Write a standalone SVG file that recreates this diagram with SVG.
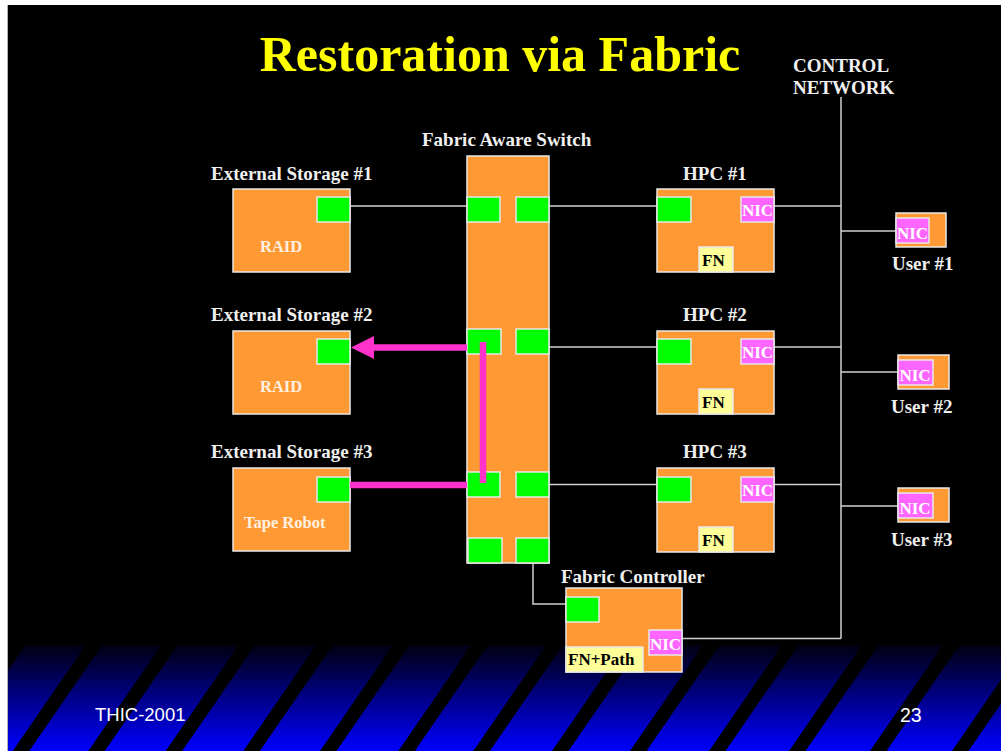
<svg xmlns="http://www.w3.org/2000/svg" width="1001" height="751" viewBox="0 0 1001 751">
<defs>
<linearGradient id="bg" x1="0" y1="645" x2="0" y2="751" gradientUnits="userSpaceOnUse">
<stop offset="0" stop-color="#000010"/>
<stop offset="1" stop-color="#0000ff"/>
</linearGradient>
<clipPath id="slide"><rect x="8" y="5" width="993" height="746"/></clipPath>
<style>
.box{fill:#ff9933;stroke:#e8e8e8;stroke-width:1.5}
.port{fill:#00ff00;stroke:#e8e8e8;stroke-width:1.5}
.nic{fill:#ff66ff;stroke:#e8e8e8;stroke-width:1.5}
.fn{fill:#ffff99;stroke:#e8e8e8;stroke-width:1.5}
.lbl{font-family:"Liberation Serif","Times New Roman",serif;font-weight:bold;font-size:19px;fill:#f0f0f0}
.inner{font-family:"Liberation Serif","Times New Roman",serif;font-weight:bold;font-size:16.5px;fill:#fff0e0}
.nict{font-family:"Liberation Serif","Times New Roman",serif;font-weight:bold;font-size:17px;fill:#ffffff;text-anchor:middle}
.fnt{font-family:"Liberation Serif","Times New Roman",serif;font-weight:bold;font-size:17px;fill:#000000}
.wire{stroke:#d0d0d0;stroke-width:1.5;fill:none}
.pink{stroke:#ff33cc;stroke-width:6.5;fill:none}
.stripe{fill:#000000}
.foot{font-family:"Liberation Sans",Arial,sans-serif;fill:#ffffff}
</style>
</defs>
<rect x="0" y="0" width="1001" height="751" fill="#ffffff"/>
<rect x="7" y="5" width="994" height="746" fill="#000000"/>
<g id="footer-band" clip-path="url(#slide)">
<rect x="8" y="645" width="993" height="106" fill="url(#bg)"/>
<polygon class="stripe" points="-64,751 -47.5,751 25.5,645 9,645"/>
<polygon class="stripe" points="12.7,751 29.2,751 102.2,645 85.7,645"/>
<polygon class="stripe" points="88.3,751 104.8,751 177.8,645 161.3,645"/>
<polygon class="stripe" points="165.7,751 182.2,751 255.2,645 238.7,645"/>
<polygon class="stripe" points="243.3,751 259.8,751 332.8,645 316.3,645"/>
<polygon class="stripe" points="320,751 336.5,751 409.5,645 393,645"/>
<polygon class="stripe" points="398.3,751 414.8,751 487.8,645 471.3,645"/>
<polygon class="stripe" points="473.3,751 489.8,751 562.8,645 546.3,645"/>
<polygon class="stripe" points="552,751 568.5,751 641.5,645 625,645"/>
<polygon class="stripe" points="630,751 646.5,751 719.5,645 703,645"/>
<polygon class="stripe" points="709,751 725.5,751 798.5,645 782,645"/>
<polygon class="stripe" points="789,751 805.5,751 878.5,645 862,645"/>
<polygon class="stripe" points="870,751 886.5,751 959.5,645 943,645"/>
<polygon class="stripe" points="952,751 968.5,751 1041.5,645 1025,645"/>
</g>
<line x1="7.5" y1="5" x2="7.5" y2="751" stroke="#b0b0b0" stroke-width="1"/>
<text x="500" y="71" text-anchor="middle" style="font-family:'Liberation Serif','Times New Roman',serif;font-weight:bold;font-size:50px;fill:#ffff00">Restoration via Fabric</text>
<text class="foot" x="95" y="721" font-size="18.5">THIC-2001</text>
<text class="foot" x="900" y="722" font-size="19.5">23</text>
<g id="connectors">
<line class="wire" x1="350" y1="206" x2="467" y2="206"/>
<line class="wire" x1="549" y1="206" x2="657" y2="206"/>
<line class="wire" x1="549" y1="347" x2="657" y2="347"/>
<line class="wire" x1="549" y1="484.5" x2="657" y2="484.5"/>
<line class="wire" x1="774" y1="206" x2="841" y2="206"/>
<line class="wire" x1="774" y1="347" x2="841" y2="347"/>
<line class="wire" x1="774" y1="484.5" x2="841" y2="484.5"/>
<line class="wire" x1="841" y1="97" x2="841" y2="638.5"/>
<line class="wire" x1="841" y1="231" x2="896" y2="231"/>
<line class="wire" x1="841" y1="372" x2="898" y2="372"/>
<line class="wire" x1="841" y1="506" x2="898" y2="506"/>
<line class="wire" x1="682" y1="638.5" x2="841" y2="638.5"/>
<path class="wire" d="M533,563 V604 H566"/>
</g>
<g id="es1">
<text class="lbl" x="211" y="180">External Storage #1</text>
<rect class="box" x="233" y="189" width="117" height="83"/>
<rect class="port" x="317" y="197" width="33" height="25"/>
<text class="inner" x="260" y="252">RAID</text>
</g>
<g id="es2">
<text class="lbl" x="211" y="321">External Storage #2</text>
<rect class="box" x="233" y="331" width="117" height="83"/>
<rect class="port" x="317" y="339" width="33" height="25"/>
<text class="inner" x="260" y="392">RAID</text>
</g>
<g id="es3">
<text class="lbl" x="211" y="458">External Storage #3</text>
<rect class="box" x="233" y="468" width="117" height="83"/>
<rect class="port" x="317" y="477" width="33" height="25"/>
<text class="inner" x="244" y="528">Tape Robot</text>
</g>
<g id="switch">
<text class="lbl" x="422" y="146">Fabric Aware Switch</text>
<rect class="box" x="467" y="156" width="82" height="407"/>
<rect class="port" x="467" y="197" width="33" height="25"/>
<rect class="port" x="516" y="197" width="33" height="25"/>
<rect class="port" x="467" y="329" width="34" height="25"/>
<rect class="port" x="516" y="329" width="33" height="25"/>
<rect class="port" x="467" y="472" width="33" height="25"/>
<rect class="port" x="516" y="472" width="33" height="25"/>
<rect class="port" x="468" y="538" width="34" height="25"/>
<rect class="port" x="516" y="538" width="33" height="25"/>
</g>
<g id="restore-path">
<line class="pink" x1="467" y1="347.5" x2="372" y2="347.5" stroke-width="7"/>
<polygon points="351,347.5 374,336 374,359" fill="#ff33cc"/>
<line class="pink" x1="483" y1="342" x2="483" y2="483"/>
<line class="pink" x1="350" y1="485" x2="467" y2="485"/>
</g>
<g id="hpc1">
<text class="lbl" x="683" y="180">HPC #1</text>
<rect class="box" x="657" y="189" width="117" height="83"/>
<rect class="port" x="657" y="197" width="34" height="25"/>
<rect class="nic" x="741" y="197" width="33" height="25"/>
<text class="nict" x="757.5" y="216">NIC</text>
<rect class="fn" x="699" y="247" width="34" height="25"/>
<text class="fnt" x="702" y="266">FN</text>
</g>
<g id="hpc2">
<text class="lbl" x="683" y="321">HPC #2</text>
<rect class="box" x="657" y="331" width="117" height="83"/>
<rect class="port" x="657" y="339" width="34" height="25"/>
<rect class="nic" x="741" y="339" width="33" height="25"/>
<text class="nict" x="757.5" y="358">NIC</text>
<rect class="fn" x="699" y="389" width="34" height="25"/>
<text class="fnt" x="702" y="408">FN</text>
</g>
<g id="hpc3">
<text class="lbl" x="683" y="458">HPC #3</text>
<rect class="box" x="657" y="468" width="117" height="84"/>
<rect class="port" x="657" y="477" width="34" height="25"/>
<rect class="nic" x="741" y="477" width="33" height="25"/>
<text class="nict" x="757.5" y="496">NIC</text>
<rect class="fn" x="699" y="527" width="34" height="25"/>
<text class="fnt" x="702" y="546">FN</text>
</g>
<g id="control-network">
<text class="lbl" x="793" y="72">CONTROL</text>
<text class="lbl" x="793" y="94">NETWORK</text>
</g>
<g id="user1">
<rect class="box" x="896" y="213" width="50" height="34"/>
<rect class="nic" x="896" y="218" width="33" height="25"/>
<text class="nict" x="912.5" y="239">NIC</text>
<text class="lbl" x="892" y="270">User #1</text>
</g>
<g id="user2">
<rect class="box" x="898" y="355" width="51" height="34"/>
<rect class="nic" x="898" y="360" width="35" height="25"/>
<text class="nict" x="915" y="381">NIC</text>
<text class="lbl" x="891" y="413">User #2</text>
</g>
<g id="user3">
<rect class="box" x="898" y="488" width="51" height="34"/>
<rect class="nic" x="898" y="493" width="35" height="25"/>
<text class="nict" x="915" y="514">NIC</text>
<text class="lbl" x="891" y="546">User #3</text>
</g>
<g id="fabric-controller">
<text class="lbl" x="561" y="583">Fabric Controller</text>
<rect class="box" x="566" y="588" width="116" height="84"/>
<rect class="port" x="566" y="597" width="33" height="25"/>
<rect class="nic" x="649" y="630" width="33" height="25"/>
<text class="nict" x="665.5" y="650">NIC</text>
<rect class="fn" x="566" y="647" width="77" height="25"/>
<text class="fnt" x="568" y="665">FN+Path</text>
</g>
</svg>
